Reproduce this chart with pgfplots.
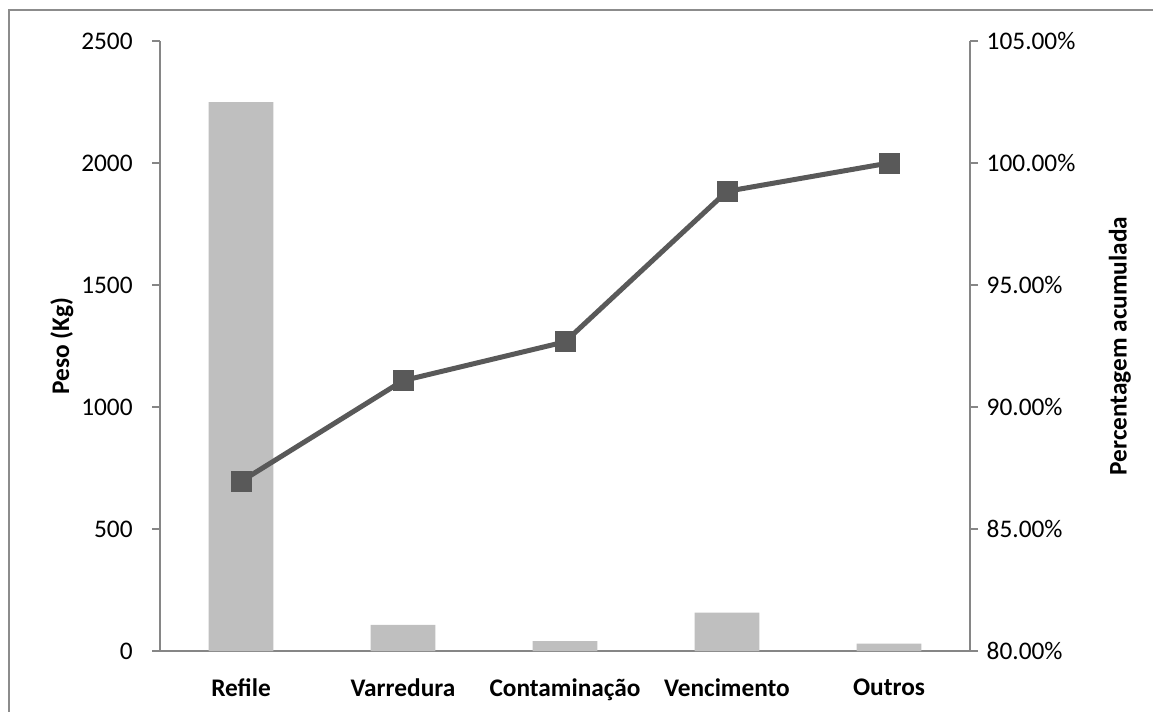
\documentclass[border=0pt]{standalone}
\usepackage{fontspec}
\setmainfont{Carlito}
\usepackage{pgfplots}
\pgfplotsset{compat=1.18}

\definecolor{barfill}{HTML}{BFBFBF}
\definecolor{linecol}{HTML}{595959}
\definecolor{axiscol}{HTML}{868686}
\definecolor{framecol}{HTML}{8C8C8C}

\pgfplotsset{
  /pgf/number format/assume math mode=true,
  every axis/.append style={
    scale only axis,
    width=607.5pt, height=457.5pt,
    xmin=-0.5, xmax=4.5,
    axis line style={axiscol, line width=0.9pt},
    every tick/.style={axiscol, line width=0.9pt},
    major tick length=6pt,
    tick align=outside,
  },
  every tick label/.append style={black, font=\fontsize{19}{23}\selectfont},
  every axis label/.append style={black, font=\fontsize{19}{23}\selectfont\bfseries},
}

\begin{document}
\begin{tikzpicture}
  \path[use as bounding box] (0,0) rectangle (864.75pt,-533.25pt);
  % outer chart frame
  \draw[framecol, line width=0.8pt] (6.75pt,-540pt) -- (6.75pt,-7.5pt) -- (870pt,-7.5pt);

  % weight per category (bars, left axis)
  \begin{axis}[
    at={(120pt,-488.25pt)}, anchor=south west,
    axis y line*=left, axis x line*=bottom,
    ymin=0, ymax=2500, ytick={0,500,...,2500},
    /pgf/number format/1000 sep={},
    yticklabel style={xshift=-11pt},
    xtick={0,1,2,3,4},
    xticklabels={Refile,Varredura,Contaminação,Vencimento,Outros},
    xtick style={draw=none},
    xticklabel style={font=\fontsize{19}{23}\selectfont\bfseries, yshift=-11pt},
    extra x ticks={-0.5,0.5,1.5,2.5,3.5,4.5},
    extra x tick labels={},
    extra x tick style={major tick length=6pt, tick style={axiscol, line width=0.9pt}},
    ylabel={Peso (Kg)},
    ylabel style={at={(axis description cs:-0.121,0.5)}, anchor=center},
    ybar, bar width=0.4, bar shift=0pt,
  ]
    \addplot[fill=barfill, draw=none] coordinates {
      (0,2250) (1,107) (2,41) (3,157) (4,30)
    };
  \end{axis}

  % cumulative percentage (line, right axis)
  \begin{axis}[
    at={(120pt,-488.25pt)}, anchor=south west,
    axis y line*=right, axis x line=none,
    ymin=80, ymax=105, ytick={80,85,...,105},
    yticklabel={\pgfmathprintnumber[fixed,fixed zerofill,precision=2]{\tick}\%},
    yticklabel style={xshift=3pt},
    ylabel={Percentagem acumulada},
    ylabel style={at={(axis description cs:1.185,0.5)}, anchor=center},
  ]
    \addplot[linecol, line width=3.75pt, mark=square*, mark size=7.5pt,
             mark options={solid, fill=linecol, draw=linecol, line width=0pt}]
      coordinates {
      (0,86.95) (1,91.08) (2,92.67) (3,98.84) (4,100.00)
    };
  \end{axis}
\end{tikzpicture}
\end{document}
